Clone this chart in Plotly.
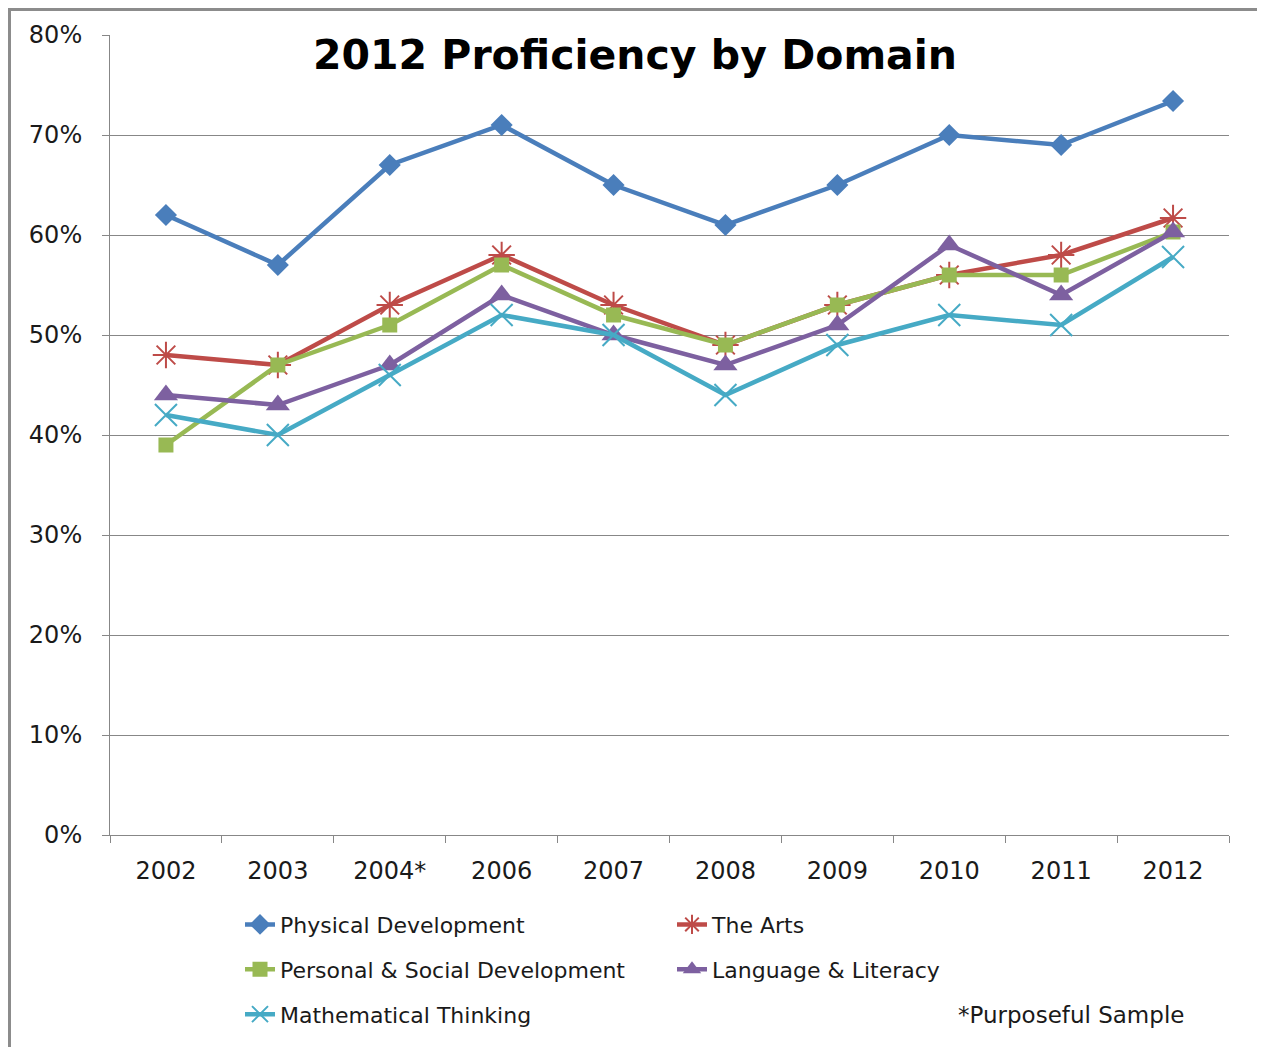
import plotly.graph_objects as go

years = ["2002", "2003", "2004*", "2006", "2007", "2008", "2009", "2010", "2011", "2012"]

physical = [62, 57, 67, 71, 65, 61, 65, 70, 69, 73.4]
arts = [48, 47, 53, 58, 53, 49, 53, 56, 58, 61.7]
personal = [39, 47, 51, 57, 52, 49, 53, 56, 56, 60.3]
language = [44, 43, 47, 54, 50, 47, 51, 59, 54, 60.3]
math = [42, 40, 46, 52, 50, 44, 49, 52, 51, 57.8]

y_ticks = [0, 10, 20, 30, 40, 50, 60, 70, 80]

FONT = "DejaVu Sans"
OFF = 8  # page body margin
W, H = 1265 - OFF, 1047 - OFF
L, T = 110 - OFF, 35 - OFF
R = W - (1229 - OFF)
B = H - (838 - OFF)
PW, PH = W - L - R, H - T - B


def px_x(x):
    return (x - OFF - L) / PW


def px_y(y):
    return (H - B - (y - OFF)) / PH


fig = go.Figure()

series = [
    ("Physical Development", physical, "#4A7EBB", dict(symbol="diamond", size=17), "legend"),
    ("The Arts", arts, "#BE4B48", dict(symbol="asterisk-open", size=22, line=dict(width=2, color="#BE4B48")), "legend"),
    ("Personal & Social Development", personal, "#98B954", dict(symbol="square", size=15), "legend2"),
    ("Language & Literacy", language, "#7D60A0", dict(symbol="triangle-up", size=21), "legend2"),
    ("Mathematical Thinking", math, "#46AAC5", dict(symbol="x-thin-open", size=22, line=dict(width=2, color="#46AAC5")), "legend3"),
]

for name, vals, color, marker, leg in series:
    m = dict(color=color, **marker)
    fig.add_trace(go.Scatter(
        x=years, y=vals, name=name, mode="lines+markers",
        line=dict(color=color, width=4.5), marker=m, legend=leg,
    ))

legend_common = dict(
    orientation="h", xanchor="left", yanchor="middle",
    font=dict(family=FONT, size=22, color="#1a1a1a"),
    entrywidth=387, entrywidthmode="pixels",
    bgcolor="rgba(0,0,0,0)", itemclick=False,
)

fig.update_layout(
    width=W, height=H,
    margin=dict(l=L, r=R, t=T, b=B),
    paper_bgcolor="white", plot_bgcolor="white",
    title=dict(
        text="<b>2012 Proficiency by Domain</b>",
        font=dict(family=FONT, size=41, color="black"),
        x=(635 - OFF) / W, xanchor="center", xref="container",
        y=1 - (55 - OFF) / H, yanchor="middle", yref="container",
    ),
    legend=dict(x=px_x(240), y=px_y(928), **legend_common),
    legend2=dict(x=px_x(240), y=px_y(973), **legend_common),
    legend3=dict(x=px_x(240), y=px_y(1018), **legend_common),
    xaxis=dict(
        type="category", categoryorder="array", categoryarray=years,
        range=[-0.5, len(years) - 0.5],
        tickson="boundaries", ticks="outside", ticklen=7, tickcolor="#878787",
        showline=True, linecolor="#878787", linewidth=1,
        showgrid=False, zeroline=False, ticklabelstandoff=14,
        tickfont=dict(family=FONT, size=24, color="#1a1a1a"),
    ),
    yaxis=dict(
        range=[0, 80], tickvals=y_ticks, ticktext=[f"{v}%" for v in y_ticks],
        ticks="outside", ticklen=7, tickcolor="#878787",
        showline=True, linecolor="#878787", linewidth=1,
        showgrid=True, gridcolor="#878787", gridwidth=1,
        zeroline=False, ticklabelstandoff=15,
        tickfont=dict(family=FONT, size=24, color="#1a1a1a"),
    ),
    showlegend=True,
)

fig.add_annotation(
    text="*Purposeful Sample", xref="paper", yref="paper",
    x=px_x(1186), y=px_y(1019), xanchor="right", yanchor="middle",
    showarrow=False, font=dict(family=FONT, size=23, color="#1a1a1a"),
)

fig.add_shape(
    type="rect", xref="paper", yref="paper",
    x0=px_x(9.5), x1=px_x(1262), y0=px_y(1070), y1=px_y(9.5),
    line=dict(color="#8c8c8c", width=3), fillcolor="rgba(0,0,0,0)", layer="below",
)

fig.write_html("out.html")
